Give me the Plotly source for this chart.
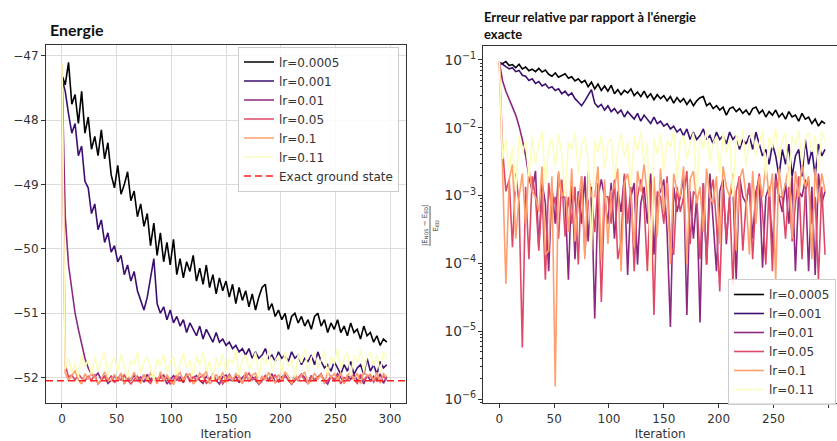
import numpy as np
import plotly.graph_objects as go

# ---------------- data ----------------
iterations = list(range(0, 300, 3))
exact_energy = -52.05
labels = ["lr=0.0005", "lr=0.001", "lr=0.01", "lr=0.05", "lr=0.1", "lr=0.11"]
colors = ["#000004", "#3b0f70", "#8c2981", "#de4968", "#fe9f6d", "#fcfdbf"]

energy_lr_0p0005 = [
    -47.30, -47.45, -47.10, -47.75, -47.60, -48.05, -47.55, -48.20, -47.95, -48.45,
    -48.25, -48.55, -48.15, -48.60, -48.35, -48.85, -49.05, -48.70, -49.15, -49.00,
    -48.80, -49.25, -49.10, -49.50, -49.30, -49.65, -49.45, -49.95, -49.60, -50.10,
    -49.75, -50.20, -49.90, -50.25, -49.85, -50.40, -50.15, -50.45, -50.20, -50.35,
    -50.10, -50.50, -50.30, -50.55, -50.25, -50.60, -50.40, -50.70, -50.45, -50.65,
    -50.50, -50.75, -50.55, -50.85, -50.60, -50.80, -50.65, -50.90, -50.70, -50.95,
    -50.75, -50.60, -50.55, -50.95, -50.85, -51.05, -50.95, -51.10, -51.00, -51.25,
    -51.05, -51.00, -51.15, -51.05, -51.20, -51.10, -51.25, -51.05, -51.00, -51.20,
    -51.10, -51.30, -51.15, -51.25, -51.10, -51.30, -51.20, -51.35, -51.15, -51.30,
    -51.25, -51.40, -51.20, -51.35, -51.30, -51.45, -51.35, -51.50, -51.40, -51.45]

energy_lr_0p001 = [
    -47.35, -47.55, -47.90, -48.20, -48.05, -48.55, -48.40, -48.95, -49.05, -49.45,
    -49.30, -49.70, -49.55, -49.90, -49.75, -50.05, -49.95, -50.20, -50.10, -50.40,
    -50.25, -50.50, -50.35, -50.65, -50.80, -50.95, -50.75, -50.45, -50.15, -50.85,
    -51.00, -50.90, -51.10, -50.95, -51.15, -51.05, -51.20, -51.10, -51.30, -51.15,
    -51.25, -51.35, -51.20, -51.40, -51.25, -51.35, -51.45, -51.30, -51.45, -51.40,
    -51.50, -51.45, -51.55, -51.50, -51.60, -51.55, -51.65, -51.55, -51.70, -51.60,
    -51.70, -51.65, -51.55, -51.70, -51.65, -51.75, -51.60, -51.70, -51.65, -51.75,
    -51.60, -51.70, -51.65, -51.80, -51.70, -51.75, -51.65, -51.80, -51.60, -51.75,
    -51.85, -51.80, -51.90, -51.75, -51.85, -51.95, -51.80, -51.90, -51.75, -51.95,
    -51.85, -51.80, -51.95, -51.70, -51.90, -51.80, -51.95, -51.75, -51.85, -51.80]

energy_lr_0p01 = [
    -47.20, -49.50, -50.25, -50.65, -51.00, -51.25, -51.50, -51.70, -51.85, -51.95,
    -51.99, -51.93, -52.041, -51.97, -52.09, -52.046, -51.98, -52.03, -51.94, -52.10,
    -52.00, -52.047, -51.96, -52.044, -51.99, -52.07, -51.95, -52.039, -51.98, -52.0492,
    -52.00, -51.96, -52.10, -52.03, -51.97, -52.038, -51.99, -52.08, -51.95, -52.0465,
    -52.00, -51.97, -52.045, -52.09, -51.98, -52.03, -51.94, -52.043, -52.10, -51.99,
    -51.96, -52.035, -52.0494, -51.98, -52.08, -52.00, -51.95, -52.0491, -51.99, -52.038,
    -52.10, -52.0493, -51.97, -52.045, -51.94, -52.07, -52.046, -51.99, -51.96, -52.040,
    -52.10, -51.98, -52.047, -51.95, -52.00, -52.09, -51.97, -52.038, -51.99, -51.96,
    -52.0455, -52.10, -51.98, -52.042, -51.94, -52.00, -52.08, -51.97, -52.03, -51.95,
    -52.046, -51.99, -52.10, -51.96, -52.046, -51.98, -52.0465, -51.94, -52.09, -51.99]

energy_lr_0p05 = [
    -47.15, -51.80, -51.99, -51.96, -52.041, -51.94, -52.01, -52.0497, -51.98, -52.044,
    -51.95, -52.10, -52.042, -51.99, -52.047, -51.97, -52.08, -52.00, -52.038, -51.96,
    -52.037, -52.10, -52.03, -51.98, -52.045, -51.95, -52.043, -52.09, -51.99, -52.035,
    -51.97, -52.0486, -52.00, -52.10, -52.03, -51.96, -52.044, -52.039, -51.94, -52.07,
    -51.98, -52.046, -52.00, -51.96, -52.09, -52.046, -51.97, -52.0491, -51.99, -52.10,
    -52.03, -51.95, -52.040, -52.043, -51.98, -52.08, -52.00, -51.93, -52.04, -51.99,
    -52.10, -52.044, -51.97, -52.045, -52.00, -51.96, -52.07, -52.048, -51.98, -52.038,
    -52.10, -52.0475, -51.99, -51.95, -52.042, -52.09, -51.97, -52.044, -52.00, -51.94,
    -52.08, -52.045, -51.98, -52.046, -51.96, -52.10, -52.00, -52.038, -51.97, -52.039,
    -52.09, -51.95, -52.044, -51.99, -51.96, -52.07, -52.00, -52.047, -51.98, -52.043]

energy_lr_0p1 = [
    -47.12, -51.93, -52.0474, -51.96, -51.90, -52.038, -52.10, -51.94, -52.03, -51.92,
    -51.99, -52.10, -52.02, -51.91, -52.043, -52.042, -51.95, -52.04992, -51.93, -52.10,
    -51.98, -52.035, -51.92, -52.039, -52.09, -51.95, -52.044, -51.93, -52.00, -52.10,
    -51.91, -52.044, -51.96, -52.04, -52.11, -51.98, -51.92, -52.046, -51.97, -51.94,
    -52.10, -52.041, -51.93, -51.99, -51.90, -52.10, -52.041, -51.95, -52.037, -51.92,
    -52.08, -51.97, -52.045, -51.94, -51.99, -52.10, -51.91, -52.045, -51.96, -51.93,
    -52.09, -51.98, -52.035, -51.92, -52.00, -52.09, -51.95, -52.040, -51.91, -51.98,
    -52.10, -51.94, -52.042, -51.96, -51.92, -52.10, -52.043, -51.93, -52.03, -51.95,
    -52.10, -51.90, -52.00, -51.94, -52.047, -51.92, -52.10, -51.97, -51.91, -52.038,
    -51.93, -52.10, -51.90, -51.98, -51.95, -52.044, -51.92, -52.09, -51.94, -51.99]

energy_lr_0p11 = [
    -47.12, -51.87, -51.70, -51.93, -51.77, -51.99, -51.65, -51.83, -51.72, -51.95,
    -51.67, -51.90, -51.75, -51.60, -51.97, -51.78, -51.69, -51.91, -51.63, -51.85,
    -52.00, -51.73, -51.80, -51.61, -51.94, -51.76, -51.67, -51.88, -52.042, -51.71,
    -51.82, -51.64, -51.92, -51.75, -51.68, -51.96, -51.79, -51.62, -51.86, -51.73,
    -51.98, -51.66, -51.81, -51.59, -51.90, -51.74, -52.046, -51.69, -51.84, -51.63,
    -51.93, -51.71, -51.78, -51.58, -51.96, -51.72, -51.65, -51.87, -51.76, -51.61,
    -51.99, -51.68, -51.80, -51.57, -51.89, -51.74, -51.66, -51.94, -51.60, -51.83,
    -51.70, -52.00, -51.64, -51.77, -51.56, -51.91, -51.69, -51.62, -51.85, -51.73,
    -51.58, -51.95, -51.67, -51.79, -51.55, -51.88, -51.71, -51.61, -51.98, -51.65,
    -51.76, -51.57, -51.90, -51.68, -51.60, -51.82, -51.64, -51.93, -51.59, -51.72]

energies = [energy_lr_0p0005, energy_lr_0p001, energy_lr_0p01,
            energy_lr_0p05, energy_lr_0p1, energy_lr_0p11]

x_ticks = [0, 50, 100, 150, 200, 250, 300]

# ---------------- figure ----------------
W, H = 837, 441
def px_x(p): return p / W
def px_y(p): return (H - p) / H

fig = go.Figure()
for lab, col, e in zip(labels, colors, energies):
    fig.add_trace(go.Scatter(x=iterations, y=e, mode="lines", name=lab,
                             line=dict(color=col, width=1.6),
                             xaxis="x", yaxis="y", legend="legend"))
for lab, col, e in zip(labels, colors, energies):
    rel = np.abs(np.array(e) - exact_energy) / abs(exact_energy)
    fig.add_trace(go.Scatter(x=iterations, y=rel, mode="lines", name=lab,
                             line=dict(color=col, width=1.6),
                             xaxis="x2", yaxis="y2", legend="legend2"))

fig.add_shape(type="line", xref="x domain", x0=0, x1=1, yref="y",
              y0=exact_energy, y1=exact_energy,
              line=dict(color="#ff2020", width=1.6, dash="7px,4px"),
              showlegend=True, name="Exact ground state", legend="legend")

tickfont = dict(family="DejaVu Sans", size=12, color="#333333")
axis_common = dict(showline=True, linecolor="#333333", linewidth=1,
                   ticks="outside", ticklen=4, tickcolor="#333333",
                   zeroline=False, automargin=False)

fig.update_layout(
    width=W, height=H,
    margin=dict(l=0, r=0, t=0, b=0),
    paper_bgcolor="white", plot_bgcolor="white",
    xaxis=dict(domain=[px_x(46), px_x(406)], range=[-14.6, 314.6],
               tickvals=x_ticks, showgrid=True, gridcolor="#dcdcdc",
               gridwidth=1, mirror=True, anchor="y", tickfont=tickfont,
               title=dict(text="Iteration", font=tickfont, standoff=4),
               **axis_common),
    yaxis=dict(domain=[px_y(403.3), px_y(45)], range=[-52.40, -46.83],
               dtick=1, tick0=-52, showgrid=True, gridcolor="#dcdcdc",
               gridwidth=1, mirror=True, anchor="x", tickfont=tickfont,
               **axis_common),
    xaxis2=dict(domain=[px_x(483.3), 1.0], range=[-14.6, 307.9],
                tickvals=x_ticks, showgrid=False, mirror=True, anchor="y2",
                tickfont=tickfont,
                title=dict(text="Iteration", font=tickfont, standoff=4),
                **axis_common),
    yaxis2=dict(domain=[px_y(403.3), px_y(46)], type="log",
                range=[-6.063, -0.794], dtick=1, exponentformat="power",
                showgrid=False, mirror=False, anchor="x2",
                tickfont=dict(family="DejaVu Sans", size=11, color="#333333"),
                minor=dict(ticks="outside", ticklen=2, dtick="D1",
                           tickcolor="#333333", showgrid=False),
                **axis_common),
    legend=dict(x=px_x(238), y=px_y(46.5), xanchor="left", yanchor="top",
                bgcolor="rgba(255,255,255,0.85)", bordercolor="#cccccc",
                borderwidth=1, font=dict(family="DejaVu Sans", size=12, color="#333333"),
                tracegroupgap=0),
    legend2=dict(x=px_x(728), y=px_y(279), xanchor="left", yanchor="top",
                 bgcolor="rgba(255,255,255,0.85)", bordercolor="#cccccc",
                 borderwidth=1, font=dict(family="DejaVu Sans", size=12, color="#333333"),
                 tracegroupgap=0),
    showlegend=True,
)

fig.add_annotation(text="<b>Energie</b>", x=px_x(48), y=px_y(29), xref="paper", yref="paper",
                   xanchor="left", yanchor="middle", showarrow=False,
                   font=dict(family="Lato", size=16, color="#111111"))
fig.add_annotation(text="<b>Erreur relative par rapport à l'énergie<br>exacte</b>",
                   x=px_x(482), y=px_y(7), xref="paper", yref="paper",
                   xanchor="left", yanchor="top", align="left", showarrow=False,
                   font=dict(family="Lato", size=13, color="#111111"))
# y label of the right panel: |E_NQS - E_ED| / E_ED
fig.add_annotation(text="|E<sub>NQS</sub> − E<sub>ED</sub>|", x=px_x(425), y=px_y(226),
                   xref="paper", yref="paper", textangle=-90, showarrow=False,
                   font=dict(family="DejaVu Sans", size=7, color="#333333"))
fig.add_shape(type="line", xref="paper", yref="paper", x0=px_x(430), x1=px_x(430),
              y0=px_y(206), y1=px_y(246), line=dict(color="#333333", width=0.8))
fig.add_annotation(text="E<sub>ED</sub>", x=px_x(435.5), y=px_y(226),
                   xref="paper", yref="paper", textangle=-90, showarrow=False,
                   font=dict(family="DejaVu Sans", size=7, color="#333333"))

fig.write_html("out.html", config={"displayModeBar": False},
               post_script="document.body.style.margin='0';")
